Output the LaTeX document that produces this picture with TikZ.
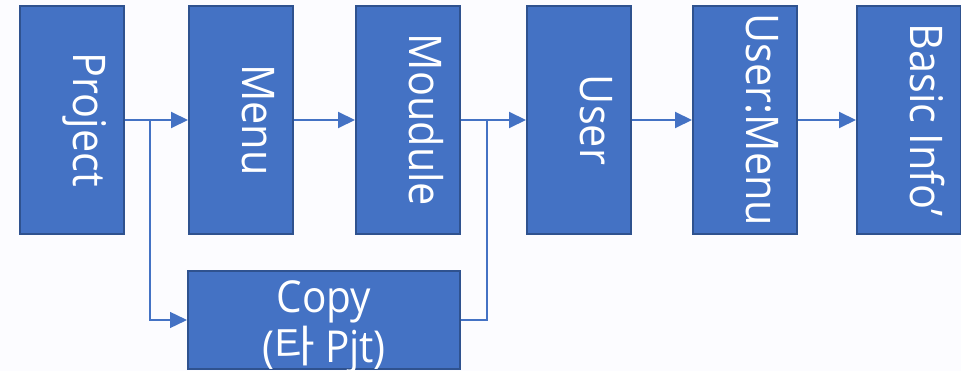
\documentclass[tikz,border=0pt]{standalone}
\usepackage{fontspec}
\setmainfont{Open Sans}[FakeStretch=0.92]
\newfontfamily\krfont{Noto Sans CJK KR}
\usetikzlibrary{arrows.meta}
\definecolor{boxblue}{RGB}{68,114,196}
\definecolor{boxedge}{RGB}{47,82,143}
\definecolor{paper}{RGB}{252,252,255}

\begin{document}
\begin{tikzpicture}[x=1pt,y=-1pt,
stepblock/.style={draw=boxedge,fill=boxblue,line width=2pt,rotate=-90,minimum width=228pt,minimum height=104pt,inner sep=0pt,text=white,font=\fontsize{45}{50}\selectfont,text height=32pt,text depth=34pt},
copyblock/.style={draw=boxedge,fill=boxblue,line width=2pt,minimum width=272pt,minimum height=97pt,inner sep=0pt,text=white,align=center,font=\fontsize{44}{50}\selectfont,text height=90pt,text depth=6pt},
flow/.style={draw=boxblue,line width=2pt,-{Triangle[length=17pt,width=16pt]}},
branch/.style={draw=boxblue,line width=1.4pt}]

\fill[paper] (0,0) rectangle (961,371);
\useasboundingbox (0,0) rectangle (961,371);

\draw (72,120) node[stepblock] (prj) {Project};
\draw (241,120) node[stepblock] (menu) {Menu};
\draw (408,120) node[stepblock] (mod) {Moudule};
\draw (579,120) node[stepblock] (usr) {User};
\draw (745,120) node[stepblock] (umenu) {User:Menu};
\draw (909,120) node[stepblock] (info) {Basic Info'};
\draw (324,320) node[copyblock] (copy) {Copy\\({\krfont 타} Pjt)};

\coordinate (fork) at (150,120);
\coordinate (join) at (487,120);

\draw[flow] (prj) -- (menu);
\draw[flow] (menu) -- (mod);
\draw[flow] (mod) -- (usr);
\draw[flow] (usr) -- (umenu);
\draw[flow] (umenu) -- (info);
\draw[branch,-{Triangle[length=17pt,width=16pt]}] (fork) |- (copy);
\draw[branch] (copy) -| (join);

\end{tikzpicture}
\end{document}
